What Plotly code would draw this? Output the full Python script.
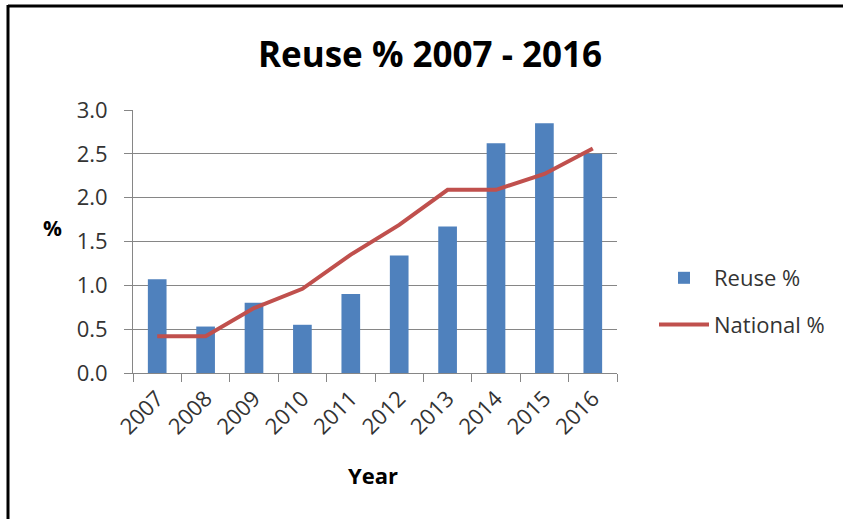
import plotly.graph_objects as go

years = ["2007", "2008", "2009", "2010", "2011", "2012", "2013", "2014", "2015", "2016"]
reuse_pct = [1.07, 0.53, 0.80, 0.55, 0.90, 1.34, 1.67, 2.62, 2.85, 2.50]
national_pct = [0.42, 0.42, 0.74, 0.96, 1.35, 1.69, 2.09, 2.09, 2.27, 2.56]
y_ticks = [0.0, 0.5, 1.0, 1.5, 2.0, 2.5, 3.0]

W, H = 843, 519
L, R, T, B = 133, W - 617, 110, H - 373
pw, ph = W - L - R, H - T - B

def px_x(x):
    return (x - L) / pw

def px_y(y):
    return (H - B - y) / ph

FONT = "Open Sans"
GRID = "#868686"
TXT = "#333333"

fig = go.Figure()
fig.add_trace(go.Bar(
    x=years, y=reuse_pct, name="Reuse %", marker_color="#4F81BD",
    marker_line_width=0, width=0.386, legendgroup="a",
))
fig.add_trace(go.Scatter(
    x=years, y=national_pct, name="National %", mode="lines",
    line=dict(color="#C0504D", width=4), legendgroup="b",
))

fig.update_layout(
    width=W, height=H,
    margin=dict(l=L, r=R, t=T, b=B),
    paper_bgcolor="white", plot_bgcolor="white",
    font=dict(family=FONT, color=TXT),
    title=dict(text="<b>Reuse % 2007 - 2016</b>", x=px_x(430), xref="paper",
               xanchor="center", y=1 - 55 / H, yanchor="middle",
               font=dict(size=35, color="#000000", family=FONT)),
    showlegend=True,
    legend=dict(x=px_x(654), y=px_y(257), xanchor="left", yanchor="top",
                font=dict(size=22, color=TXT), traceorder="grouped",
                tracegroupgap=15, itemwidth=50, bgcolor="rgba(0,0,0,0)"),
    bargap=0.6,
)
fig.update_xaxes(
    type="category", showline=True, linecolor=GRID, linewidth=1,
    ticks="outside", ticklen=8, tickcolor=GRID, tickson="boundaries",
    tickangle=-45, tickfont=dict(size=22, color=TXT),
    showgrid=False, ticklabelstandoff=3,
)
fig.update_yaxes(
    range=[0, 3.0], tickvals=y_ticks, ticktext=[f"{v:.1f}" for v in y_ticks],
    showline=True, linecolor=GRID, linewidth=1,
    ticks="outside", ticklen=8, tickcolor=GRID,
    showgrid=True, gridcolor=GRID, gridwidth=1,
    tickfont=dict(size=22, color=TXT), zeroline=False,
    ticklabelstandoff=12,
)
fig.add_annotation(text="<b>Year</b>", xref="paper", yref="paper",
                   x=px_x(373), y=px_y(475), xanchor="center", yanchor="middle",
                   showarrow=False, font=dict(size=22, color="#000"))
fig.add_annotation(text="<b>%</b>", xref="paper", yref="paper",
                   x=px_x(52), y=px_y(228), xanchor="center", yanchor="middle",
                   showarrow=False, font=dict(size=21, color="#000"))
# outer frame (top and left edges)
fig.add_shape(type="line", xref="paper", yref="paper",
              x0=px_x(8), x1=px_x(845), y0=px_y(6), y1=px_y(6),
              line=dict(color="black", width=3))
fig.add_shape(type="line", xref="paper", yref="paper",
              x0=px_x(8), x1=px_x(8), y0=px_y(5), y1=px_y(521),
              line=dict(color="black", width=3))

fig.write_html("out.html", config={"displayModeBar": False},
               post_script="document.body.style.margin='0';")
